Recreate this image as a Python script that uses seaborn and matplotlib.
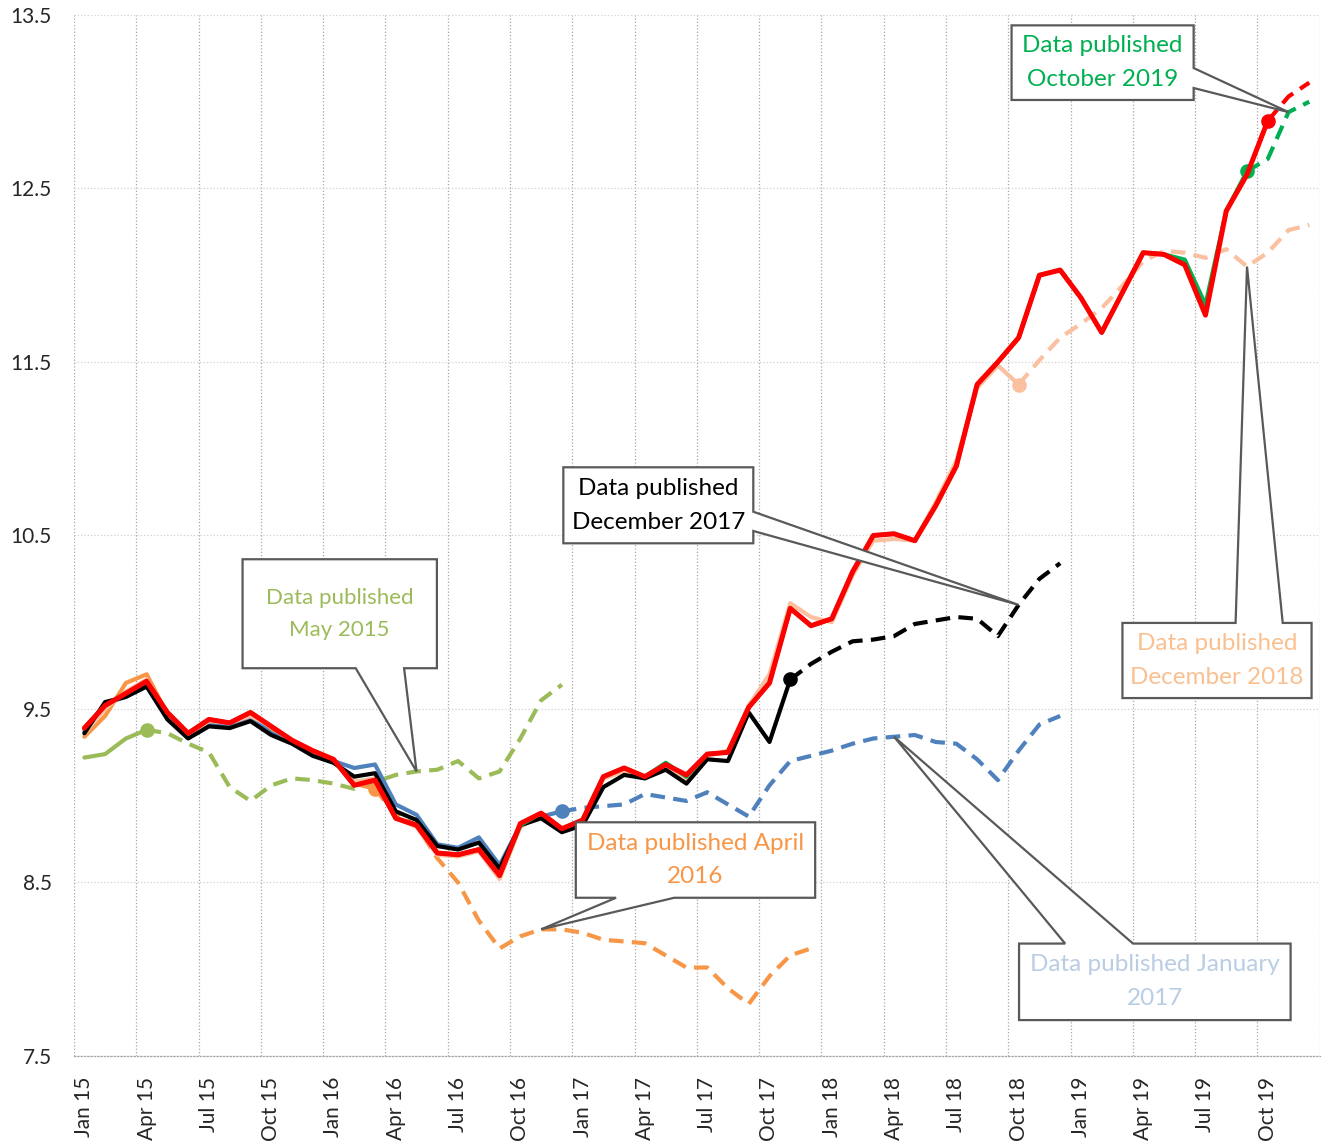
import matplotlib.pyplot as plt
import seaborn as sns
import numpy as np
import pandas as pd
from matplotlib.patches import Polygon

# months Jan 15 .. Dec 19
months = pd.date_range('2015-01-01', '2019-12-01', freq='MS')
month_labels = [d.strftime('%b %y') for d in months]

# each vintage: outturn (solid, from Jan 15) and forecast (dashed, after last outturn)
may15_actual = [9.22, 9.24, 9.33, 9.38]
may15_forecast = [9.36, 9.30, 9.25, 9.05, 8.97, 9.06, 9.10, 9.09, 9.07, 9.04,
                  9.08, 9.12, 9.14, 9.15, 9.20, 9.10, 9.14, 9.33, 9.55, 9.64]

apr16_actual = [9.34, 9.46, 9.65, 9.70, 9.47, 9.35, 9.43, 9.41, 9.46, 9.38,
                9.31, 9.25, 9.20, 9.07, 9.04]
apr16_forecast = [8.89, 8.83, 8.64, 8.50, 8.28, 8.12, 8.19, 8.23, 8.23, 8.21,
                  8.17, 8.16, 8.15, 8.08, 8.01, 8.01, 7.89, 7.80, 7.96, 8.08, 8.12]

jan17_actual = [9.37, 9.53, 9.57, 9.63, 9.45, 9.34, 9.41, 9.40, 9.45, 9.36,
                9.31, 9.24, 9.20, 9.16, 9.18, 8.95, 8.89, 8.72, 8.70, 8.76,
                8.60, 8.83, 8.88, 8.91]
jan17_forecast = [8.93, 8.94, 8.95, 9.01, 8.99, 8.97, 9.02, 8.95, 8.88, 9.06,
                  9.20, 9.23, 9.26, 9.30, 9.33, 9.34, 9.35, 9.31, 9.30, 9.21,
                  9.09, 9.26, 9.41, 9.46]

dec17_actual = [9.36, 9.54, 9.57, 9.63, 9.44, 9.33, 9.40, 9.39, 9.43, 9.35,
                9.30, 9.23, 9.19, 9.11, 9.13, 8.91, 8.86, 8.71, 8.69, 8.73,
                8.58, 8.83, 8.87, 8.79, 8.83, 9.05, 9.12, 9.10, 9.15, 9.07,
                9.21, 9.20, 9.48, 9.31, 9.67]
dec17_forecast = [9.76, 9.83, 9.89, 9.90, 9.92, 9.99, 10.01, 10.03, 10.02, 9.92,
                  10.10, 10.25, 10.34]

dec18_actual = [9.36, 9.50, 9.60, 9.67, 9.47, 9.35, 9.43, 9.42, 9.46, 9.40,
                9.31, 9.25, 9.20, 9.08, 9.10, 8.87, 8.82, 8.66, 8.65, 8.68,
                8.52, 8.82, 8.89, 8.79, 8.85, 9.10, 9.14, 9.10, 9.17, 9.09,
                9.23, 9.26, 9.52, 9.70, 10.11, 10.03, 10.00, 10.27, 10.47, 10.48,
                10.47, 10.69, 10.93, 11.35, 11.48, 11.37]
dec18_forecast = [11.51, 11.64, 11.72, 11.81, 11.94, 12.08, 12.14, 12.13, 12.10,
                  12.15, 12.05, 12.13, 12.26, 12.29]

oct19_actual = [9.39, 9.52, 9.59, 9.66, 9.48, 9.36, 9.44, 9.42, 9.48, 9.40,
                9.32, 9.26, 9.21, 9.06, 9.09, 8.87, 8.83, 8.67, 8.66, 8.69,
                8.54, 8.83, 8.90, 8.81, 8.86, 9.11, 9.16, 9.11, 9.19, 9.11,
                9.24, 9.25, 9.51, 9.65, 10.08, 9.98, 10.02, 10.29, 10.50, 10.51,
                10.47, 10.67, 10.90, 11.37, 11.50, 11.64, 12.00, 12.03, 11.87, 11.67,
                11.90, 12.13, 12.12, 12.09, 11.83, 12.37, 12.60]
oct19_forecast = [12.67, 12.94, 13.00]

latest_actual = [9.39, 9.52, 9.59, 9.66, 9.48, 9.36, 9.44, 9.42, 9.48, 9.40,
                 9.32, 9.26, 9.21, 9.06, 9.09, 8.87, 8.83, 8.67, 8.66, 8.69,
                 8.54, 8.84, 8.90, 8.81, 8.86, 9.11, 9.16, 9.11, 9.18, 9.12,
                 9.24, 9.25, 9.51, 9.65, 10.08, 9.98, 10.02, 10.29, 10.50, 10.51,
                 10.47, 10.67, 10.90, 11.37, 11.50, 11.64, 12.00, 12.03, 11.87, 11.67,
                 11.90, 12.13, 12.12, 12.06, 11.77, 12.37, 12.58, 12.89]
latest_forecast = [13.03, 13.11]

sns.set_style('white')
plt.rcParams['font.family'] = ['Lato', 'DejaVu Sans']

fig = plt.figure(figsize=(13.33, 11.42), dpi=100)
ax = fig.add_axes([0.0555, 0.0753, 0.9345, 0.9116])

DASH = (0, (3.5, 2))


def draw_vintage(actual, forecast, color, lw, z, ms=9.5):
    n = len(actual)
    df_a = pd.DataFrame({'x': np.arange(n), 'y': actual})
    sns.lineplot(data=df_a, x='x', y='y', color=color, lw=lw, ax=ax, zorder=z,
                 sort=False, errorbar=None, legend=False)
    df_f = pd.DataFrame({'x': np.arange(n - 1, n + len(forecast)),
                         'y': [actual[-1]] + forecast})
    sns.lineplot(data=df_f, x='x', y='y', color=color, lw=3.0, ax=ax, zorder=z,
                 sort=False, errorbar=None, legend=False, linestyle=DASH)
    ax.plot(n - 1, actual[-1], 'o', ms=ms, color=color, zorder=z + 0.5)


draw_vintage(may15_actual, may15_forecast, '#9BBB59', 3.0, 2)
draw_vintage(apr16_actual, apr16_forecast, '#F79646', 3.0, 3)
draw_vintage(jan17_actual, jan17_forecast, '#4F81BD', 3.0, 4)
draw_vintage(dec18_actual, dec18_forecast, '#FAC09F', 3.0, 5)
draw_vintage(dec17_actual, dec17_forecast, '#000000', 3.0, 6)
draw_vintage(oct19_actual, oct19_forecast, '#00B050', 3.0, 7)
draw_vintage(latest_actual, latest_forecast, '#FF0000', 3.6, 8)

# axes styling
ax.set_xlim(-0.5, 59.5)
ax.set_ylim(7.5, 13.5)
ax.set_xticks(np.arange(0, 60, 3))
ax.set_xticklabels(month_labels[::3], rotation=90, fontsize=15)
ax.set_xticks(np.arange(-0.5, 60, 3), minor=True)
ax.set_yticks(np.arange(7.5, 13.6, 1.0))
ax.set_yticklabels([f'{v:.1f}' for v in np.arange(7.5, 13.6, 1.0)], fontsize=15)
ax.tick_params(axis='x', which='major', length=0, pad=15)
ax.tick_params(axis='x', which='minor', length=6, width=0.8, color='#A6A6A6', direction='out')
ax.tick_params(axis='y', length=0, pad=16)
ax.grid(False)
ax.grid(which='minor', axis='x', ls=':', lw=0.9, color='#A6A6A6')
ax.grid(which='major', axis='y', ls=':', lw=0.9, color='#D0D0D0')
for s in ['top', 'right', 'left']:
    ax.spines[s].set_visible(False)
ax.spines['bottom'].set_linestyle(':')
ax.spines['bottom'].set_color('#A6A6A6')
ax.spines['bottom'].set_linewidth(0.9)
ax.set_xlabel('')
ax.set_ylabel('')


def callout(x0, x1, y0, y1, side, a, b, tip, text, color, size):
    if side == 'bottom':
        pts = [(x0, y0), (a, y0), tip, (b, y0), (x1, y0), (x1, y1), (x0, y1)]
    elif side == 'right':
        pts = [(x0, y0), (x1, y0), (x1, a), tip, (x1, b), (x1, y1), (x0, y1)]
    else:  # top
        pts = [(x0, y0), (x1, y0), (x1, y1), (b, y1), tip, (a, y1), (x0, y1)]
    poly = Polygon(pts, closed=True, facecolor='white', edgecolor='#595959',
                   lw=1.6, zorder=20, clip_on=False)
    ax.add_patch(poly)
    ax.text((x0 + x1) / 2, (y0 + y1) / 2, text, ha='center', va='center',
            color=color, fontsize=size, linespacing=1.75, zorder=21)


callout(7.62, 16.98, 9.735, 10.363, 'bottom', 13.07, 15.40, (16, may15_forecast[12]),
        'Data published\nMay 2015', '#9BBB59', 16)
callout(23.07, 32.22, 10.455, 10.893, 'right', 10.526, 10.637, (45, dec17_forecast[10]),
        'Data published\nDecember 2017', '#000000', 17.5)
callout(23.67, 35.20, 8.412, 8.847, 'bottom', 25.61, 28.41, (22, apr16_forecast[7]),
        'Data published April\n2016', '#F79646', 17.5)
callout(44.66, 53.43, 13.01, 13.44, 'right', 13.079, 13.194, (58, oct19_forecast[1]),
        'Data published\nOctober 2019', '#00B050', 17.5)
callout(50.0, 59.11, 9.563, 9.996, 'top', 55.45, 57.72, (56, dec18_forecast[10]),
        'Data published\nDecember 2018', '#FAC090', 17.5)
callout(45.02, 58.10, 7.707, 8.148, 'top', 47.24, 50.51, (39, jan17_forecast[15]),
        'Data published January\n2017', '#B9CDE5', 17.5)

fig.savefig('out.png', dpi=100)
